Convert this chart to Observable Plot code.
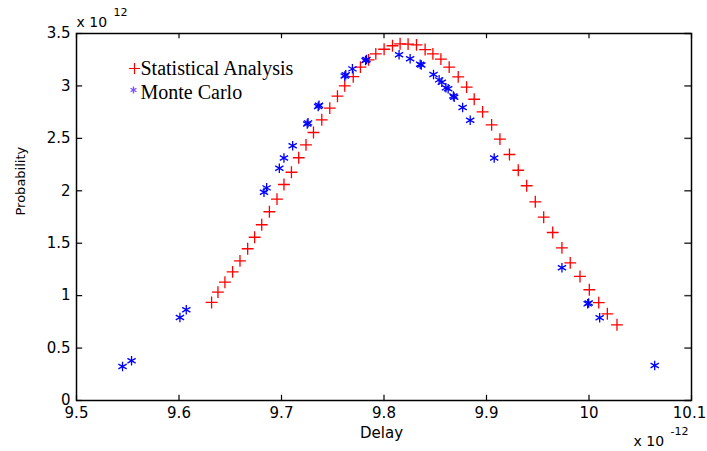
<!DOCTYPE html>
<html><head><meta charset="utf-8">
<script src="https://cdn.jsdelivr.net/npm/d3@7"></script>
<script src="https://cdn.jsdelivr.net/npm/@observablehq/plot@0.6"></script>
<style>body{margin:0;background:#fff}</style>
</head><body><div id="chart"></div>
<script>
// Statistical Analysis (delay in 1e-12 s, probability in 1e12)
const statX = [9.6318,9.638,9.6448,9.6523,9.6595,9.667,9.6738,9.6807,9.6882,9.6956,9.7024,9.7097,9.7168,9.7239,9.7312,9.7393,9.7471,9.7546,9.7617,9.77,9.777,9.7849,9.792,9.8001,9.8083,9.8157,9.8235,9.8317,9.8401,9.8477,9.8555,9.8636,9.8724,9.8806,9.888,9.8962,9.905,9.9131,9.9224,9.931,9.9392,9.9476,9.9558,9.9646,9.9736,9.9817,9.9912,10.0003,10.0095,10.0179,10.0273];
const statY = [0.935,1.033,1.128,1.227,1.332,1.447,1.557,1.676,1.800,1.920,2.060,2.177,2.315,2.438,2.556,2.677,2.788,2.902,3.001,3.088,3.179,3.249,3.306,3.350,3.383,3.402,3.398,3.392,3.347,3.306,3.255,3.179,3.087,2.988,2.873,2.753,2.629,2.492,2.346,2.196,2.048,1.895,1.748,1.602,1.456,1.313,1.183,1.056,0.933,0.827,0.722];
// Monte Carlo
const mcX = [9.5449,9.5537,9.6009,9.6071,9.6829,9.6855,9.6979,9.7024,9.7109,9.7259,9.7251,9.7366,9.7358,9.7627,9.7617,9.7692,9.7829,9.782,9.8147,9.8255,9.8353,9.8364,9.8483,9.8538,9.8564,9.8604,9.8626,9.8685,9.8677,9.8767,9.8841,9.9075,9.9736,9.9987,9.9997,10.0104,10.0641];
const mcY = [0.324,0.379,0.792,0.865,1.986,2.028,2.215,2.313,2.429,2.648,2.637,2.816,2.804,3.106,3.095,3.163,3.252,3.242,3.297,3.259,3.207,3.200,3.109,3.058,3.035,2.982,2.973,2.892,2.904,2.794,2.673,2.313,1.266,0.922,0.930,0.789,0.334];

const xTicks = [9.5,9.6,9.7,9.8,9.9,10,10.1];
const xTickLabels = ["9.5","9.6","9.7","9.8","9.9","10","10.1"];
const yTicks = [0,0.5,1,1.5,2,2.5,3,3.5];
const yTickLabels = ["0","0.5","1","1.5","2","2.5","3","3.5"];
const seriesNames = ["Statistical Analysis","Monte Carlo"];

const stat = statX.map((x,i)=>({x, y: statY[i]}));
const mc = mcX.map((x,i)=>({x, y: mcY[i]}));
const tickFont = "DejaVu Sans, Arial, sans-serif";
const serif = "Liberation Serif, Times New Roman, serif";
const xFmt = d => xTickLabels[xTicks.indexOf(d)];
const yFmt = d => yTickLabels[yTicks.indexOf(d)];

const plot = Plot.plot({
  width: 707, height: 451,
  marginLeft: 76, marginRight: 16, marginTop: 33, marginBottom: 51,
  style: {fontFamily: tickFont, fontSize: "15px", background: "#fff", overflow: "visible", color: "#000"},
  x: {domain: [9.5, 10.1]},
  y: {domain: [0, 3.5]},
  marks: [
    Plot.dot(stat, {x: "x", y: "y", symbol: "plus", r: 3.9, stroke: "#ff0000", strokeWidth: 1.3}),
    Plot.dot(mc, {x: "x", y: "y", symbol: "asterisk", r: 4.5, stroke: "#0000ff", strokeWidth: 1.3}),
    // inward tick marks
    Plot.ruleX(xTicks, {x: d => d, y1: 0, y2: 0.05, stroke: "#000", strokeWidth: 1.2}),
    Plot.ruleX(xTicks, {x: d => d, y1: 3.5, y2: 3.45, stroke: "#000", strokeWidth: 1.2}),
    Plot.ruleY(yTicks, {y: d => d, x1: 9.5, x2: 9.506, stroke: "#000", strokeWidth: 1.2}),
    Plot.ruleY(yTicks, {y: d => d, x1: 10.1, x2: 10.0935, stroke: "#333", strokeWidth: 1.5}),
    Plot.frame({stroke: "#000", strokeWidth: 1.5}),
    // tick labels
    Plot.axisX(xTicks.slice(0, -1), {anchor: "bottom", tickSize: 0, tickPadding: 7, tickFormat: xFmt, label: null, fontSize: 15}),
    Plot.axisX(xTicks.slice(-1), {anchor: "bottom", tickSize: 0, tickPadding: 7, tickFormat: xFmt, label: null, fontSize: 15, dx: -2}),
    Plot.axisY(yTicks, {anchor: "left", tickSize: 0, tickPadding: 6, tickFormat: yFmt, label: null, fontSize: 15}),
    // exponent labels
    Plot.text(["x 10"], {frameAnchor: "top-left", text: d => d, textAnchor: "start", lineAnchor: "bottom", dx: 0, dy: -7, fontSize: 14}),
    Plot.text(["12"], {frameAnchor: "top-left", text: d => d, textAnchor: "start", lineAnchor: "bottom", dx: 37, dy: -18, fontSize: 11}),
    Plot.text(["x 10"], {frameAnchor: "bottom-right", text: d => d, textAnchor: "start", lineAnchor: "bottom", dx: -58, dy: 45, fontSize: 14}),
    Plot.text(["-12"], {frameAnchor: "bottom-right", text: d => d, textAnchor: "start", lineAnchor: "bottom", dx: -21, dy: 34, fontSize: 11}),
    // axis titles
    Plot.text(["Delay"], {frameAnchor: "bottom", text: d => d, lineAnchor: "bottom", dx: -2.5, dy: 37, fontSize: 15}),
    Plot.text(["Probability"], {frameAnchor: "left", text: d => d, rotate: -90, lineAnchor: "middle", dx: -56, dy: -1.5, fontSize: 13}),
    // legend
    Plot.dot([0], {frameAnchor: "top-left", symbol: "plus", r: 3.7, stroke: "#ff0000", strokeWidth: 1.2, dx: 58, dy: 35}),
    Plot.text([seriesNames[0]], {frameAnchor: "top-left", text: d => d, textAnchor: "start", lineAnchor: "bottom", dx: 64, dy: 41, fontSize: 20, fontFamily: serif}),
    Plot.dot([0], {frameAnchor: "top-left", symbol: "asterisk", r: 3.2, stroke: "#7b4dff", strokeWidth: 1.3, dx: 57, dy: 56.5}),
    Plot.text([seriesNames[1]], {frameAnchor: "top-left", text: d => d, textAnchor: "start", lineAnchor: "bottom", dx: 64, dy: 65.5, fontSize: 20, fontFamily: serif})
  ]
});
document.getElementById("chart").appendChild(plot);
</script>
</body></html>
